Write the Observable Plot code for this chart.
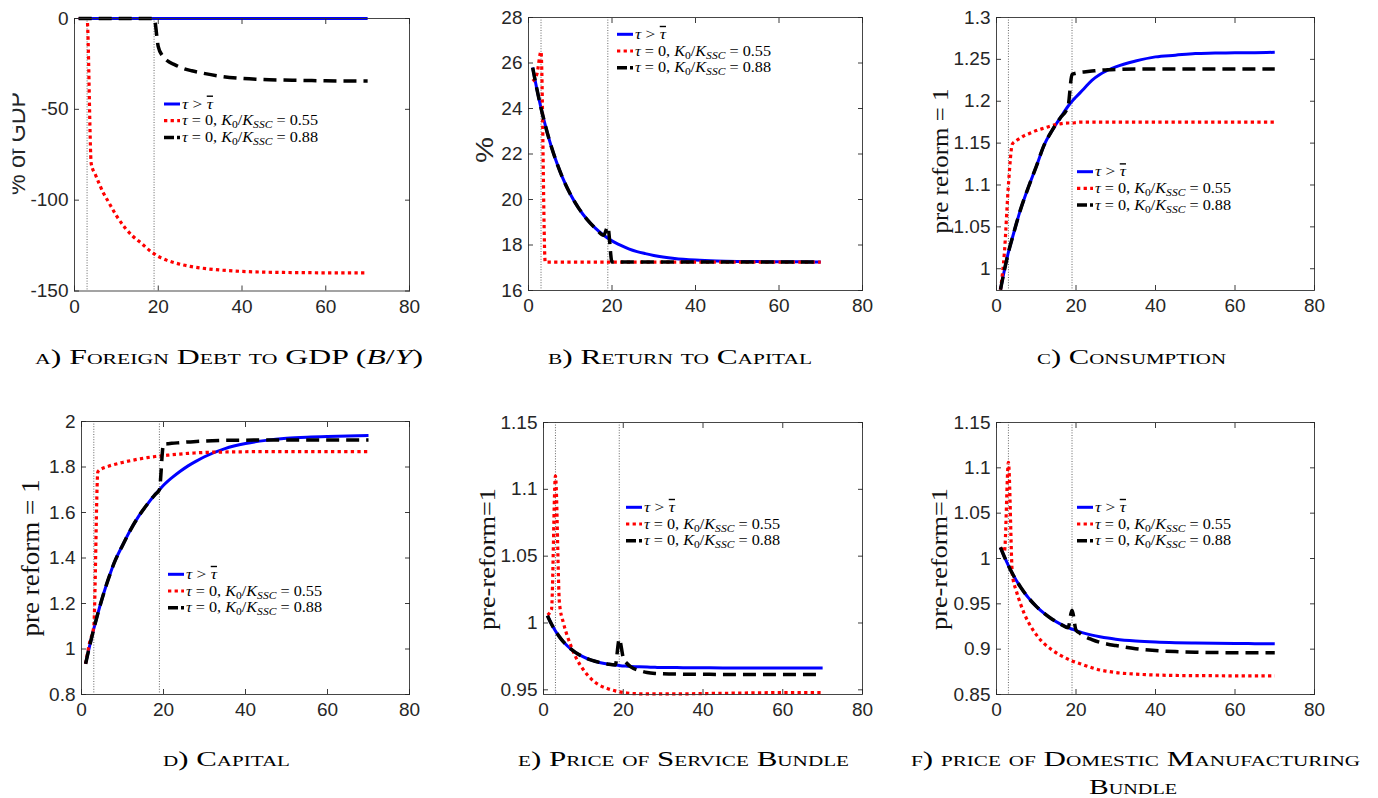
<!DOCTYPE html>
<html><head><meta charset="utf-8">
<script src="https://cdn.jsdelivr.net/npm/d3@7"></script>
<script src="https://cdn.jsdelivr.net/npm/@observablehq/plot@0.6"></script>
<style>
body{margin:0;background:#fff;}
#root{position:relative;width:1378px;height:798px;overflow:hidden;background:#fff;}
#root > svg{position:absolute;}
</style></head><body><div id="root"></div>
<script>
// ---------------- DATA ----------------
const T = [1,2,3,4,5,6,7,8,10,12,14,16,18,19,20,21,22,24,26,28,30,35,40,45,50,55,60,65,70];
const xTicks = [0,20,40,60,80];
const refYears = [3,19];
const seriesNames = ["τ > τ̄", "τ = 0, K0/KSSC = 0.55", "τ = 0, K0/KSSC = 0.88"];

// a) Foreign debt to GDP (% of GDP)
const debtBlue  = [0,0,0,0,0,0,0,0,0,0,0,0,0,0,0,0,0,0,0,0,0,0,0,0,0,0,0,0,0];
const debtRed   = [0,0,0,-80,-86,-91.5,-96.5,-100.5,-108.5,-115,-120,-123.8,-127.8,-129.5,-131,-132,-133,-134.5,-135.7,-136.6,-137.3,-138.5,-139.2,-139.6,-139.8,-139.9,-140,-140,-140];
const debtBlack = [0,0,0,0,0,0,0,0,0,0,0,0,0,0,-15.5,-20.5,-23,-25.5,-27.5,-28.8,-29.8,-31.9,-33,-33.6,-33.9,-34.1,-34.3,-34.4,-34.4];
const debtTicks = [-150,-100,-50,0];

// b) Return to capital (%)
const retBlue  = [25.8,24.86,24.02,23.28,22.61,22.02,21.5,21.03,20.24,19.62,19.13,18.74,18.43,18.3,18.18,18.08,17.99,17.83,17.71,17.62,17.54,17.41,17.34,17.3,17.28,17.27,17.26,17.26,17.25];
const retRed   = [25.2,25.5,26.5,17.25,17.25,17.25,17.25,17.25,17.25,17.25,17.25,17.25,17.25,17.25,17.25,17.25,17.25,17.25,17.25,17.25,17.25,17.25,17.25,17.25,17.25,17.25,17.25,17.25,17.25];
const retBlack = [25.8,24.86,24.02,23.28,22.61,22.02,21.5,21.03,20.24,19.62,19.13,18.74,18.43,18.8,17.25,17.25,17.25,17.25,17.25,17.25,17.25,17.25,17.25,17.25,17.25,17.25,17.25,17.25,17.25];
const retTicks = [16,18,20,22,24,26,28];

// c) Consumption (pre reform = 1)
const consBlue  = [0.975,0.9985,1.0197,1.037,1.054,1.07,1.084,1.097,1.122,1.1479,1.1652,1.1798,1.194,1.2,1.205,1.21,1.215,1.225,1.232,1.237,1.241,1.248,1.253,1.255,1.257,1.2575,1.258,1.258,1.2585];
const consRed   = [0.975,1.02,1.1,1.149,1.153,1.156,1.159,1.161,1.165,1.168,1.171,1.173,1.174,1.174,1.1745,1.175,1.175,1.175,1.175,1.175,1.175,1.175,1.175,1.175,1.175,1.175,1.175,1.175,1.175];
const consBlack = [0.975,0.9985,1.0197,1.037,1.054,1.07,1.084,1.097,1.122,1.1479,1.1652,1.1798,1.194,1.232,1.2335,1.2345,1.235,1.236,1.237,1.2375,1.238,1.2385,1.2385,1.2385,1.2385,1.2385,1.2385,1.2385,1.2385];
const consTicks = [1,1.05,1.1,1.15,1.2,1.25,1.3];

// d) Capital (pre reform = 1)
const capBlue  = [0.935,1.015,1.089,1.157,1.22,1.278,1.331,1.38,1.455,1.525,1.585,1.635,1.68,1.7,1.72,1.737,1.752,1.78,1.805,1.826,1.845,1.881,1.903,1.917,1.926,1.931,1.934,1.936,1.938];
const capRed   = [0.935,1.03,1.1,1.78,1.793,1.8,1.806,1.811,1.82,1.828,1.835,1.841,1.846,1.848,1.85,1.852,1.854,1.857,1.86,1.862,1.864,1.866,1.867,1.868,1.868,1.868,1.868,1.868,1.868];
const capBlack = [0.935,1.015,1.089,1.157,1.22,1.278,1.331,1.38,1.455,1.525,1.585,1.635,1.68,1.7,1.9,1.902,1.904,1.907,1.91,1.912,1.914,1.917,1.918,1.919,1.919,1.919,1.919,1.919,1.919];
const capTicks = [0.8,1,1.2,1.4,1.6,1.8,2];

// e) Price of service bundle (pre-reform = 1)
const psBlue  = [1.0055,0.9992,0.994,0.9896,0.9859,0.9828,0.9802,0.978,0.9746,0.9722,0.9705,0.9693,0.9685,0.9682,0.9679,0.9677,0.9675,0.9672,0.967,0.9668,0.9667,0.9666,0.9665,0.9664,0.9664,0.9664,0.9664,0.9664,0.9664];
const psRed   = [1.006,1.01,1.11,1.015,1.0,0.99,0.982,0.975,0.965,0.958,0.9535,0.951,0.9492,0.9485,0.948,0.9476,0.9473,0.947,0.9469,0.9469,0.947,0.947,0.9472,0.9474,0.9476,0.9478,0.9479,0.948,0.948];
const psBlack = [1.0055,0.9992,0.994,0.9896,0.9859,0.9828,0.9802,0.978,0.9746,0.9722,0.9705,0.9693,0.9685,0.988,0.974,0.9695,0.967,0.9645,0.963,0.9623,0.962,0.9617,0.9616,0.9615,0.9615,0.9615,0.9615,0.9615,0.9615];
const psTicks = [0.95,1,1.05,1.1,1.15];

// f) Price of domestic manufacturing bundle (pre-reform = 1)
const pmBlue  = [1.0123,1.0017,0.9921,0.9835,0.9757,0.9688,0.9625,0.9568,0.9472,0.9394,0.933,0.9279,0.9237,0.922,0.9204,0.919,0.9177,0.9155,0.9137,0.9122,0.911,0.909,0.9078,0.9071,0.9067,0.9064,0.9062,0.9061,0.906];
const pmRed   = [1.0123,1.008,1.106,0.982,0.964,0.9505,0.939,0.93,0.916,0.906,0.899,0.8935,0.889,0.887,0.8855,0.884,0.8825,0.8795,0.877,0.8755,0.8742,0.8725,0.8715,0.871,0.8708,0.8707,0.8706,0.8705,0.8705];
const pmBlack = [1.0123,1.0017,0.9921,0.9835,0.9757,0.9688,0.9625,0.9568,0.9472,0.9394,0.933,0.9279,0.9237,0.943,0.921,0.9175,0.9145,0.9105,0.9075,0.9055,0.904,0.9005,0.8985,0.8973,0.8966,0.8963,0.8961,0.896,0.896];
const pmTicks = [0.85,0.9,0.95,1,1.05,1.1,1.15];

// Captions and axis titles
const yTitles = ["% of GDP", "%", "pre reform = 1", "pre reform = 1", "pre-reform=1", "pre-reform=1"];
const captions = [
  [[["a) Foreign Debt to GDP ",0],["(",0],["B",1],["/",0],["Y",1],[")",0]]],
  [[["b) Return to Capital",0]]],
  [[["c) Consumption",0]]],
  [[["d) Capital",0]]],
  [[["e) Price of Service Bundle",0]]],
  [[["f) price of Domestic Manufacturing",0]],[["Bundle",0]]]
];

// ---------------- LAYOUT ----------------
const panels = [
  {frame:[74,17.5,409,290], yDomain:[-150,0],      yTicks:debtTicks, s:[debtBlue,debtRed,debtBlack],
   yt:{x:25,y:143.5,len:103,serif:false,size:23}, leg:[164,104],
   cap:[{x0:35,x1:423,y:364}]},
  {frame:[528,17,862,290],  yDomain:[16,28],        yTicks:retTicks,  s:[retBlue,retRed,retBlack],
   yt:{x:493,y:150,len:26,serif:false,size:24}, leg:[617,34.3],
   cap:[{x0:548,x1:812,y:364}]},
  {frame:[996,17,1314,290], yDomain:[0.974,1.3],    yTicks:consTicks, s:[consBlue,consRed,consBlack],
   yt:{x:948,y:161,len:145,serif:true,size:24}, leg:[1077,171.7],
   cap:[{x0:1037,x1:1226,y:364}]},
  {frame:[81,421,409,694],  yDomain:[0.8,2],        yTicks:capTicks,  s:[capBlue,capRed,capBlack],
   yt:{x:39,y:558,len:157,serif:true,size:25}, leg:[168,574.3],
   cap:[{x0:163,x1:290,y:766}]},
  {frame:[543,422,862,694], yDomain:[0.9465,1.15],  yTicks:psTicks,   s:[psBlue,psRed,psBlack],
   yt:{x:495,y:559,len:142,serif:true,size:24}, leg:[626,507.3],
   cap:[{x0:518,x1:849,y:766}]},
  {frame:[996,422,1314,694],yDomain:[0.85,1.15],    yTicks:pmTicks,   s:[pmBlue,pmRed,pmBlack],
   yt:{x:947,y:559,len:142,serif:true,size:24}, leg:[1077,507.3],
   cap:[{x0:911,x1:1360,y:766},{x0:1089,x1:1177,y:794}]}
];

const styles = [
  {stroke:"#0000ff", strokeWidth:3},
  {stroke:"#ff0000", strokeWidth:3.2, strokeDasharray:"3.3,3.3"},
  {stroke:"#000000", strokeWidth:3.5, strokeDasharray:"13,7"}
];

const root = document.getElementById("root");
const mL = 70, mR = 14, mT = 14, mB = 40;
const sans = "'Liberation Sans', Arial, Helvetica, sans-serif";
const serif = "'Liberation Serif', 'Times New Roman', serif";
const fmt = d => String(d);
const none = () => "";

panels.forEach(p => {
  const [x0,y0,x1,y1] = p.frame;
  const fw = x1 - x0, fh = y1 - y0;
  const chart = Plot.plot({
    width: mL + fw + mR, height: mT + fh + mB,
    marginLeft: mL, marginRight: mR, marginTop: mT, marginBottom: mB,
    style: {background:"transparent", overflow:"visible", fontFamily: sans, fontSize:"19px", color:"#262626"},
    x: {domain:[0,80], axis:null},
    y: {domain:p.yDomain, axis:null},
    marks: [
      Plot.ruleX(refYears, {stroke:"#555", strokeWidth:0.9, strokeDasharray:"1,1.6"}),
      ...p.s.map((vals,i) => Plot.lineY(vals, {x:T, y:d=>d, curve:"monotone-x", strokeLinecap:"butt", ...styles[i]})),
      Plot.frame({stroke:"#333", strokeWidth:0.9}),
      Plot.axisX({ticks:xTicks, tickSize:0, tickPadding:8, tickFormat:fmt, label:null, fontSize:19}),
      Plot.axisX({ticks:xTicks, tickSize:-5, tickFormat:none, label:null, strokeWidth:0.9}),
      Plot.axisX({anchor:"top", ticks:xTicks, tickSize:-5, tickFormat:none, label:null, strokeWidth:0.9}),
      Plot.axisY({ticks:p.yTicks, tickSize:0, tickPadding:6, tickFormat:fmt, label:null, fontSize:19}),
      Plot.axisY({ticks:p.yTicks, tickSize:-5, tickFormat:none, label:null, strokeWidth:0.9}),
      Plot.axisY({anchor:"right", ticks:p.yTicks, tickSize:-5, tickFormat:none, label:null, strokeWidth:0.9})
    ]
  });
  chart.style.left = (x0 - mL) + "px";
  chart.style.top = (y0 - mT) + "px";
  root.appendChild(chart);
});

// ---------------- OVERLAY: axis titles, legends, captions ----------------
const ov = d3.create("svg").attr("width",1378).attr("height",798)
  .style("left","0px").style("top","0px").style("pointer-events","none");

panels.forEach((p, k) => {
  const yt = p.yt;
  ov.append("text")
    .attr("transform", `translate(${yt.x},${yt.y}) rotate(-90)`)
    .attr("text-anchor","middle")
    .attr("font-family", yt.serif ? serif : sans)
    .attr("font-size", yt.size)
    .attr("fill", yt.serif ? "#111" : "#262626")
    .attr("textLength", yt.len).attr("lengthAdjust","spacingAndGlyphs")
    .text(yTitles[k]);

  // legend
  const [lx, ly] = p.leg;
  const g = ov.append("g");
  styles.forEach((st, i) => {
    const yy = ly + i*16.7;
    g.append("line").attr("x1",lx).attr("x2",lx+16).attr("y1",yy).attr("y2",yy)
      .attr("stroke",st.stroke).attr("stroke-width",st.strokeWidth)
      .attr("stroke-dasharray", i===1 ? "3.3,3.3" : (i===2 ? "10,3" : null));
    const t = g.append("text").attr("x", lx+18).attr("y", yy+4.5)
      .attr("font-family", serif).attr("font-size", 14).attr("fill","#000");
    if (i === 0) {
      t.append("tspan").attr("font-style","italic").text("τ");
      t.append("tspan").text(" > ");
      t.append("tspan").attr("font-style","italic").style("text-decoration","overline").text("τ");
      t.attr("textLength", 31).attr("lengthAdjust","spacingAndGlyphs");
    } else {
      const val = seriesNames[i].slice(-4);
      t.append("tspan").attr("font-style","italic").text("τ");
      t.append("tspan").text(" = 0, ");
      t.append("tspan").attr("font-style","italic").text("K");
      t.append("tspan").attr("font-size",10).attr("dy",3).text("0");
      t.append("tspan").attr("dy",-3).text("/");
      t.append("tspan").attr("font-style","italic").text("K");
      t.append("tspan").attr("font-size",10).attr("font-style","italic").attr("dy",3).text("SSC");
      t.append("tspan").attr("dy",-3).text(" = " + val);
      t.attr("textLength", 136).attr("lengthAdjust","spacingAndGlyphs");
    }
  });

  // caption
  p.cap.forEach((c, li) => {
    const t = ov.append("text").attr("x", c.x0).attr("y", c.y)
      .attr("font-family", serif).attr("font-size", 22).attr("fill","#000")
      .style("font-variant","small-caps")
      .attr("textLength", c.x1 - c.x0).attr("lengthAdjust","spacingAndGlyphs");
    captions[k][li].forEach(([txt, it]) => {
      const ts = t.append("tspan").text(txt);
      if (it) ts.attr("font-style","italic").style("font-variant","normal");
    });
  });
});

// the reference's first y-axis title is cut off at its left edge
ov.append("rect").attr("x",0).attr("y",70).attr("width",12.5).attr("height",150).attr("fill","#fff");

root.appendChild(ov.node());
</script></body></html>
